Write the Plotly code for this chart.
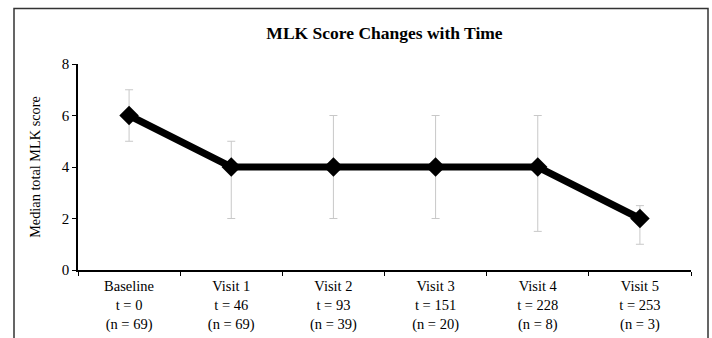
import plotly.graph_objects as go

categories = ["Baseline<br>t = 0<br>(n = 69)", "Visit 1<br>t = 46<br>(n = 69)",
              "Visit 2<br>t = 93<br>(n = 39)", "Visit 3<br>t = 151<br>(n = 20)",
              "Visit 4<br>t = 228<br>(n = 8)", "Visit 5<br>t = 253<br>(n = 3)"]
median = [6, 4, 4, 4, 4, 2]
upper = [7, 5, 6, 6, 6, 2.5]
lower = [5, 2, 2, 2, 1.5, 1]

err_plus = [u - m for u, m in zip(upper, median)]
err_minus = [m - l for m, l in zip(median, lower)]

font = "Liberation Serif, Times New Roman, serif"

fig = go.Figure()
fig.add_trace(go.Scatter(
    x=categories, y=median, mode="lines+markers",
    line=dict(color="black", width=7),
    marker=dict(symbol="diamond", size=15, color="black"),
    error_y=dict(type="data", symmetric=False, array=err_plus, arrayminus=err_minus,
                 color="#c8c8c8", thickness=1, width=4),
    showlegend=False,
))

W, H = 712, 338
ml, mr, mt, mb = 78, 712 - 691, 64, 338 - 270
pw, ph = W - ml - mr, H - mt - mb

def px(x):
    return (x - ml) / pw

def py(y):
    return (H - mb - y) / ph

fig.add_shape(type="rect", xref="paper", yref="paper",
              x0=px(14), x1=px(708), y0=py(350), y1=py(8.5),
              line=dict(color="#333333", width=1.5), fillcolor="rgba(0,0,0,0)", layer="below")

fig.update_layout(
    width=W, height=H,
    margin=dict(l=ml, r=mr, t=mt, b=mb, autoexpand=False),
    paper_bgcolor="white", plot_bgcolor="white",
    font=dict(family=font, size=14.5, color="black"),
    title=dict(text="<b>MLK Score Changes with Time</b>", x=0.5, xref="paper",
               xanchor="center", y=1 - 33 / H, yanchor="middle",
               font=dict(family=font, size=17.5, color="black")),
    xaxis=dict(type="category", range=[-0.5, len(categories) - 0.5],
               showgrid=False, showline=True, linecolor="black", linewidth=1.5,
               ticks="outside", tickson="boundaries", ticklen=4, tickcolor="black",
               automargin=False, ticklabelstandoff=2,
               tickfont=dict(family=font, size=14.5, color="black"), zeroline=False),
    yaxis=dict(range=[0, 8], dtick=2, showgrid=False, showline=True, linecolor="black",
               linewidth=1.5, ticks="outside", ticklen=4, tickcolor="black", zeroline=False,
               automargin=False,
               tickfont=dict(family=font, size=15, color="black"),
               title=dict(text="Median total MLK score", standoff=18,
                          font=dict(family=font, size=14.3, color="black"))),
)

fig.write_html("out.html", config={"displayModeBar": False},
               post_script="document.body.style.margin='0';document.body.style.overflow='hidden';")
